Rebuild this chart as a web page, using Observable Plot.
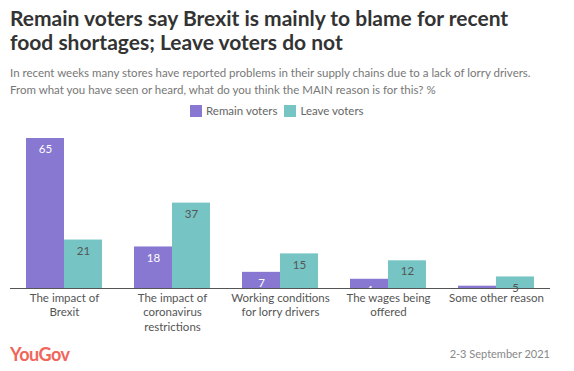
<!DOCTYPE html>
<html>
<head>
<meta charset="utf-8">
<script src="https://cdn.jsdelivr.net/npm/d3@7"></script>
<script src="https://cdn.jsdelivr.net/npm/@observablehq/plot@0.6"></script>
<style>
  html, body { margin: 0; padding: 0; background: #fff; }
  body { width: 574px; height: 371px; position: relative; overflow: hidden; font-family: Lato, "Open Sans", sans-serif; }
  .abs { position: absolute; white-space: nowrap; }
  #title { left: 10px; top: 6px; font-size: 21px; font-weight: 700; line-height: 24px; color: #333; }
  #subtitle { left: 10px; top: 64px; font-size: 11.5px; line-height: 17px; color: #777; }
  #legend { left: 190px; top: 104px; font-size: 11.5px; color: #666; display: flex; align-items: center; }
  #legend .sw { display: inline-block; width: 12px; height: 12px; margin-right: 4px; }
  #legend .item { display: flex; align-items: center; margin-right: 7px; }
  #chart { position: absolute; left: 0; top: 125px; }
  #logo { left: 10px; top: 343px; font-size: 18px; font-weight: 700; color: #f0665a; letter-spacing: -0.5px; }
  #date { right: 24px; top: 347px; font-size: 11px; color: #888; }
</style>
</head>
<body>
<div id="title" class="abs">Remain voters say Brexit is mainly to blame for recent<br>food shortages; Leave voters do not</div>
<div id="subtitle" class="abs">In recent weeks many stores have reported problems in their supply chains due to a lack of lorry drivers.<br>From what you have seen or heard, what do you think the MAIN reason is for this? %</div>
<div id="legend" class="abs"></div>
<div id="chart"></div>
<div id="logo" class="abs">YouGov</div>
<div id="date" class="abs">2-3 September 2021</div>
<script>
const categories = ["The impact of Brexit", "The impact of coronavirus restrictions", "Working conditions for lorry drivers", "The wages being offered", "Some other reason"];
const categoryLabels = ["The impact of\nBrexit", "The impact of\ncoronavirus\nrestrictions", "Working conditions\nfor lorry drivers", "The wages being\noffered", "Some other reason"];
const series = ["Remain voters", "Leave voters"];
const remainValues = [65, 18, 7, 4, 1];
const leaveValues = [21, 37, 15, 12, 5];
const colors = ["#8878d1", "#76c5c4"];
const labelColors = ["#ffffff", "#555555"];

const data = [];
categories.forEach((c, i) => {
  data.push({category: c, series: series[0], value: remainValues[i]});
  data.push({category: c, series: series[1], value: leaveValues[i]});
});
const labelOf = new Map(categories.map((c, i) => [c, categoryLabels[i]]));

// legend
const legend = document.getElementById("legend");
series.forEach((s, i) => {
  const item = document.createElement("span");
  item.className = "item";
  item.innerHTML = `<span class="sw" style="background:${colors[i]}"></span>${s}`;
  legend.appendChild(item);
});

const chart = Plot.plot({
  width: 574,
  height: 215,
  marginLeft: 10,
  marginRight: 24,
  marginTop: 13,
  marginBottom: 52,
  style: {fontFamily: "Lato, 'Open Sans', sans-serif", background: "#fff"},
  fx: {domain: categories, padding: 0, axis: null},
  x: {domain: series, paddingInner: 0, paddingOuter: 0.42, axis: null},
  y: {domain: [0, 65], axis: null},
  color: {domain: series, range: colors},
  marks: [
    Plot.barY(data, {fx: "category", x: "series", y: "value", fill: "series", inset: 0}),
    Plot.text(data, {
      fx: "category", x: "series", y: "value", text: d => String(d.value),
      dy: 11, fontSize: 11.5,
      fill: d => d.series === series[0] ? labelColors[0] : labelColors[1]
    }),
    Plot.ruleY([0], {stroke: "#555", strokeWidth: 1.2}),
    Plot.axisFx({
      anchor: "bottom", tickSize: 0, tickPadding: 4, label: null,
      tickFormat: d => labelOf.get(d), fontSize: 11.5, lineHeight: 1.22,
      fill: "#555", textAnchor: "middle"
    })
  ]
});
document.getElementById("chart").appendChild(chart);
</script>
</body>
</html>
